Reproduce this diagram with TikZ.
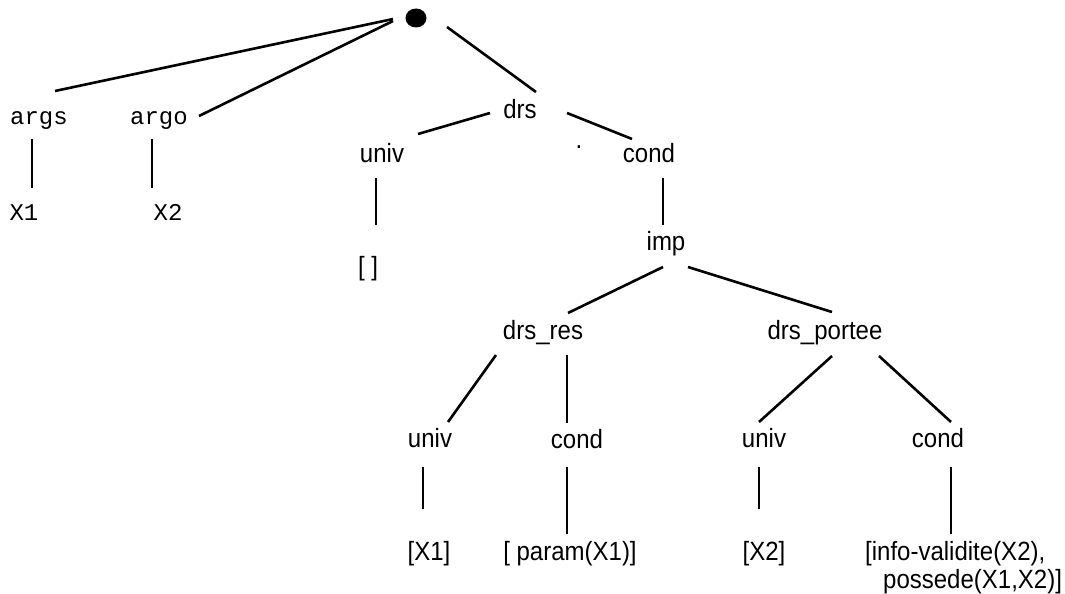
\documentclass[tikz,border=0pt]{standalone}
\usepackage{fontspec}
\usepackage{graphicx}
\setmainfont{Liberation Sans}
\newfontfamily\monofont{Liberation Mono}
\usetikzlibrary{calc,shapes.geometric}
\newcommand\vst[1]{\scalebox{1}[1.1]{#1}}
\begin{document}
\begin{tikzpicture}[x=1pt,y=-1pt,
  lbl/.style={anchor=base,inner sep=0pt,font=\fontsize{24}{28}\selectfont},
  mlbl/.style={anchor=base,inner sep=0pt,font=\monofont\fontsize{24}{29}\selectfont},
  edge/.style={line width=2.6pt,line cap=butt}]
\useasboundingbox (0,0) rectangle (1065,594);
\fill[white] (0,0) rectangle (1065,594);
% nodes
\node[ellipse,fill=black,minimum width=21pt,minimum height=19pt,inner sep=0pt] (root) at (416,18) {};
\node[mlbl] (args) at (39,124) {args};
\node[mlbl] (argo) at (159,124) {argo};
\node[mlbl] (xa) at (24,220) {X1};
\node[mlbl] (xb) at (168,220) {X2};
\node[lbl] (drs) at (520,118) {\vst{drs}};
\node[lbl] (univa) at (382,162) {\vst{univ}};
\node[lbl] (conda) at (649,162) {\vst{cond}};
\node[lbl] (stop) at (579,148) {\vst{.}};
\node[lbl] (empty) at (368,275) {\vst{[ ]}};
\node[lbl] (imp) at (666,250) {\vst{imp}};
\node[lbl] (drsres) at (543,339) {\vst{drs\_res}};
\node[lbl] (drsport) at (825,339) {\vst{drs\_portee}};
\node[lbl] (univb) at (430,447) {\vst{univ}};
\node[lbl] (condb) at (577,448) {\vst{cond}};
\node[lbl] (univc) at (764,447) {\vst{univ}};
\node[lbl] (condc) at (938,447) {\vst{cond}};
\node[lbl] (xone) at (429,560) {\vst{[X1]}};
\node[lbl] (param) at (570,560) {\vst{[ param(X1)]}};
\node[lbl] (xtwo) at (764,560) {\vst{[X2]}};
\node[lbl,anchor=base west,align=left] (info) at (865,588) {\vst{[info-validite(X2),}\\\hspace*{18pt}\vst{possede(X1,X2)]}};
% connectors
\draw[edge] ($(root.center)+(-23,1)$) -- ($(args.base)+(16,-33)$);
\draw[edge] ($(root.center)+(-23,3)$) -- ($(argo.base)+(40,-8)$);
\draw[edge] ($(root.center)+(31,9)$) -- ($(drs.base)+(16,-26)$);
\draw[edge] ($(args.base)+(-7,15)$) -- ($(xa.base)+(8,-32)$);
\draw[edge] ($(argo.base)+(-7,15)$) -- ($(xb.base)+(-16,-32)$);
\draw[edge] ($(drs.base)+(-30,-5)$) -- ($(univa.base)+(36,-28)$);
\draw[edge] ($(drs.base)+(47,-5)$) -- ($(conda.base)+(-17,-23)$);
\draw[edge] ($(univa.base)+(-6,16)$) -- ($(empty.base)+(8,-50)$);
\draw[edge] ($(conda.base)+(14,16)$) -- ($(imp.base)+(-3,-25)$);
\draw[edge] ($(imp.base)+(-3,17)$) -- ($(drsres.base)+(25,-26)$);
\draw[edge] ($(imp.base)+(22,17)$) -- ($(drsport.base)+(7,-27)$);
\draw[edge] ($(drsres.base)+(-47,16)$) -- ($(univb.base)+(18,-25)$);
\draw[edge] ($(drsres.base)+(24,16)$) -- ($(condb.base)+(-10,-25)$);
\draw[edge] ($(drsport.base)+(7,17)$) -- ($(univc.base)+(-5,-25)$);
\draw[edge] ($(drsport.base)+(54,17)$) -- ($(condc.base)+(13,-25)$);
\draw[edge] ($(univb.base)+(-7,20)$) -- ($(xone.base)+(-6,-51)$);
\draw[edge] ($(condb.base)+(-10,19)$) -- ($(param.base)+(-3,-26)$);
\draw[edge] ($(univc.base)+(-5,20)$) -- ($(xtwo.base)+(-5,-51)$);
\draw[edge] ($(condc.base)+(13,20)$) -- ($(info.base west)+(86,-54)$);
\end{tikzpicture}
\end{document}
